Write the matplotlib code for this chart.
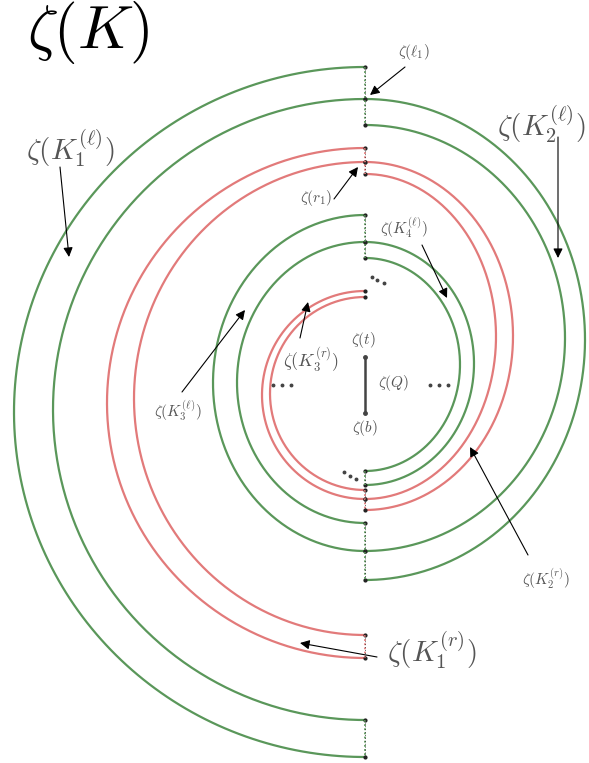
import numpy as np
import matplotlib.pyplot as plt

plt.rcParams['mathtext.fontset'] = 'cm'

# axis of the diagram (pixel space of the picture)
axis_x = 365

# left half-arcs: top end, bottom end, horizontal radius, colour
left_top = [67, 99, 148, 162, 215, 242, 291, 297]
left_bottom = [757, 720, 658, 635, 551, 523, 499, 490]
left_rx = [351, 312, 258, 231, 152, 128, 103, 95]
left_kind = ['g', 'g', 'r', 'r', 'g', 'g', 'r', 'r']

# right half-arcs
right_top = [99, 125, 162, 174, 242, 258]
right_bottom = [580, 551, 510, 499, 485, 471]
right_rx = [220, 200, 148, 131, 109, 95]
right_kind = ['g', 'g', 'r', 'r', 'g', 'g']

# dotted joins along the axis
join_start = [67, 148, 215, 471, 490, 523, 635, 720]
join_end = [125, 174, 258, 485, 510, 580, 658, 757]
join_kind = ['g', 'r', 'g', 'g', 'r', 'g', 'r', 'g']

colors = {'g': '#5a975a', 'r': '#e27a7a'}

# labels: text, position, size, arrow tail, arrow head
labels = [r'$\zeta(\ell_1)$', r'$\zeta(K_2^{(\ell)})$', r'$\zeta(K_1^{(\ell)})$',
          r'$\zeta(r_1)$', r'$\zeta(K_4^{(\ell)})$', r'$\zeta(K_3^{(r)})$',
          r'$\zeta(K_3^{(\ell)})$', r'$\zeta(K_2^{(r)})$', r'$\zeta(K_1^{(r)})$']
label_xy = [(414, 52), (541, 124), (70, 148), (316, 198), (404, 228),
            (311, 360), (178, 411), (546, 579), (432, 650)]
label_size = [11, 21, 21, 11, 11, 13, 11, 11, 21]
arrow_tail = [(405, 67), (558, 137), (60, 167), (334, 199), (422, 245),
              (300, 338), (182, 392), (528, 555), (377, 657)]
arrow_head = [(370, 95), (558, 258), (69, 257), (358, 167), (447, 298),
              (308, 302), (245, 310), (470, 447), (300, 643)]

fig = plt.figure(figsize=(5.89, 7.63), dpi=100)
ax = fig.add_axes([0, 0, 1, 1])
ax.set_xlim(0, 589)
ax.set_ylim(763, 0)
ax.axis('off')

t = np.linspace(-np.pi / 2, np.pi / 2, 300)
for top, bot, rx, k in zip(left_top, left_bottom, left_rx, left_kind):
    cy, ry = (top + bot) / 2, (bot - top) / 2
    ax.plot(axis_x - rx * np.cos(t), cy + ry * np.sin(t), color=colors[k], lw=1.6)
    ax.plot([axis_x, axis_x], [top, bot], 'o', color='#222222', ms=2)
for top, bot, rx, k in zip(right_top, right_bottom, right_rx, right_kind):
    cy, ry = (top + bot) / 2, (bot - top) / 2
    ax.plot(axis_x + rx * np.cos(t), cy + ry * np.sin(t), color=colors[k], lw=1.6)
    ax.plot([axis_x, axis_x], [top, bot], 'o', color='#222222', ms=2)

for a, b, k in zip(join_start, join_end, join_kind):
    ax.plot([axis_x, axis_x], [a, b], color=colors[k], lw=1.3, linestyle=(0, (1, 1.3)))
    ax.plot([axis_x, axis_x], [a, b], color='#333333', lw=0.6, linestyle=(0, (1, 2.5)))

# centre segment
ax.plot([axis_x, axis_x], [357, 413], color='#444444', lw=1.8, marker='o', ms=2.5)
ax.text(axis_x - 2, 340, r'$\zeta(t)$', fontsize=11, color='#555555', ha='center', va='center')
ax.text(axis_x, 428, r'$\zeta(b)$', fontsize=11, color='#555555', ha='center', va='center')
ax.text(394, 383, r'$\zeta(Q)$', fontsize=11, color='#555555', ha='center', va='center')

# ellipsis dots
ax.plot([273, 282, 291], [385, 385, 385], 'o', color='#444444', ms=1.8)
ax.plot([430, 439, 448], [385, 385, 385], 'o', color='#444444', ms=1.8)
ax.plot([372, 377, 384], [277, 280, 283], 'o', color='#444444', ms=1.8)
ax.plot([344, 350, 356], [472, 476, 479], 'o', color='#444444', ms=1.8)

for s, xy, fs, tail, head in zip(labels, label_xy, label_size, arrow_tail, arrow_head):
    ax.text(xy[0], xy[1], s, fontsize=fs, color='#555555', ha='center', va='center')
    ax.annotate('', xy=head, xytext=tail,
                arrowprops=dict(arrowstyle='-|>', color='black', lw=0.8,
                                mutation_scale=14, shrinkA=0, shrinkB=0))

ax.text(88, 32, r'$\zeta(K)$', fontsize=44, color='black', ha='center', va='center')

fig.savefig('out.png', dpi=100)
